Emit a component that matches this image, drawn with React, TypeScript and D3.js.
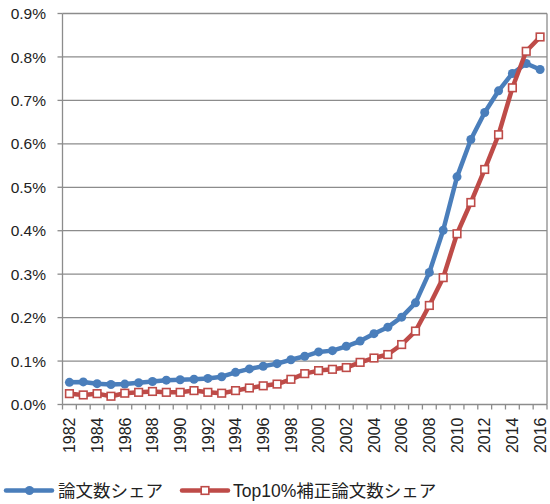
import React, { useEffect, useRef } from "react";
import * as d3 from "d3";

const years: number[] = [
  1982, 1983, 1984, 1985, 1986, 1987, 1988, 1989, 1990, 1991, 1992, 1993,
  1994, 1995, 1996, 1997, 1998, 1999, 2000, 2001, 2002, 2003, 2004, 2005,
  2006, 2007, 2008, 2009, 2010, 2011, 2012, 2013, 2014, 2015, 2016,
];

// share of papers (%)
const paperShare: number[] = [
  0.051, 0.052, 0.048, 0.046, 0.047, 0.05, 0.053, 0.056, 0.057, 0.058, 0.06,
  0.064, 0.074, 0.082, 0.088, 0.094, 0.103, 0.111, 0.121, 0.124, 0.134, 0.146,
  0.163, 0.178, 0.201, 0.234, 0.304, 0.401, 0.524, 0.61, 0.672, 0.722, 0.762,
  0.785, 0.771,
];

// share of top10% adjusted papers (%)
const top10Share: number[] = [
  0.025, 0.022, 0.025, 0.019, 0.026, 0.028, 0.03, 0.028, 0.028, 0.032, 0.028,
  0.026, 0.032, 0.038, 0.043, 0.047, 0.058, 0.071, 0.078, 0.081, 0.085, 0.097,
  0.107, 0.115, 0.138, 0.169, 0.228, 0.292, 0.393, 0.465, 0.541, 0.621, 0.729,
  0.813, 0.846,
];

const yTicks: number[] = [0, 0.1, 0.2, 0.3, 0.4, 0.5, 0.6, 0.7, 0.8, 0.9];
const seriesNames: string[] = ["論文数シェア", "Top10%補正論文数シェア"];

const BLUE = "#4A7EBB";
const RED = "#BE4B48";
const GRID = "#8c8c8c";
const FONT = "'Liberation Sans', Arial, 'Noto Sans CJK JP', sans-serif";

export default function App() {
  const svgRef = useRef<SVGSVGElement>(null);

  useEffect(() => {
    const width = 550;
    const height = 504;
    const margin = { top: 13.5, right: 3, bottom: 99.5, left: 62.5 };

    const svg = d3.select(svgRef.current);
    svg.selectAll("*").remove();
    svg.attr("width", width).attr("height", height);

    const xScale = d3
      .scaleBand<number>()
      .domain(years)
      .range([margin.left, width - margin.right]);
    const yScale = d3
      .scaleLinear()
      .domain([0, 0.9])
      .range([height - margin.bottom, margin.top]);
    const cx = (yr: number) => xScale(yr)! + xScale.bandwidth() / 2;

    const x0 = margin.left;
    const x1 = width - margin.right;
    const y0 = yScale(0);

    // grid lines
    svg
      .append("g")
      .selectAll("line")
      .data(yTicks.slice(1))
      .join("line")
      .attr("x1", x0)
      .attr("x2", x1)
      .attr("y1", (d) => yScale(d))
      .attr("y2", (d) => yScale(d))
      .attr("stroke", GRID)
      .attr("stroke-width", 1.3);

    // right border
    svg
      .append("line")
      .attr("x1", x1)
      .attr("x2", x1)
      .attr("y1", yScale(0.9))
      .attr("y2", y0)
      .attr("stroke", GRID)
      .attr("stroke-width", 1.3);

    // y axis
    const yAxis = svg.append("g");
    yAxis
      .append("line")
      .attr("x1", x0)
      .attr("x2", x0)
      .attr("y1", yScale(0.9))
      .attr("y2", y0)
      .attr("stroke", GRID)
      .attr("stroke-width", 1.3);
    yAxis
      .selectAll("line.tick")
      .data(yTicks)
      .join("line")
      .attr("class", "tick")
      .attr("x1", x0 - 5)
      .attr("x2", x0)
      .attr("y1", (d) => yScale(d))
      .attr("y2", (d) => yScale(d))
      .attr("stroke", GRID)
      .attr("stroke-width", 1.3);
    yAxis
      .selectAll("text")
      .data(yTicks)
      .join("text")
      .attr("x", 46)
      .attr("y", (d) => yScale(d))
      .attr("dy", "0.36em")
      .attr("text-anchor", "end")
      .attr("font-family", FONT)
      .attr("font-size", 15.5)
      .attr("fill", "#222")
      .text((d) => d.toFixed(1) + "%");

    // x axis
    const xAxis = svg.append("g");
    xAxis
      .append("line")
      .attr("x1", x0)
      .attr("x2", x1)
      .attr("y1", y0)
      .attr("y2", y0)
      .attr("stroke", GRID)
      .attr("stroke-width", 1.3);
    const boundaries = years.map((yr) => xScale(yr)!).concat([x1]);
    xAxis
      .selectAll("line.tick")
      .data(boundaries)
      .join("line")
      .attr("class", "tick")
      .attr("x1", (d) => d)
      .attr("x2", (d) => d)
      .attr("y1", y0)
      .attr("y2", y0 + 5)
      .attr("stroke", GRID)
      .attr("stroke-width", 1.3);
    xAxis
      .selectAll("text")
      .data(years.filter((yr) => yr % 2 === 0))
      .join("text")
      .attr("transform", (d) => `translate(${cx(d)}, ${y0 + 13}) rotate(-90)`)
      .attr("dy", "0.36em")
      .attr("text-anchor", "end")
      .attr("font-family", FONT)
      .attr("font-size", 16)
      .attr("fill", "#222")
      .text((d) => String(d));

    const line = d3
      .line<number>()
      .x((_, i) => cx(years[i]))
      .y((d) => yScale(d));

    // blue series
    svg
      .append("path")
      .attr("d", line(paperShare)!)
      .attr("fill", "none")
      .attr("stroke", BLUE)
      .attr("stroke-width", 4.5)
      .attr("stroke-linejoin", "round");
    svg
      .append("g")
      .selectAll("circle")
      .data(paperShare)
      .join("circle")
      .attr("cx", (_, i) => cx(years[i]))
      .attr("cy", (d) => yScale(d))
      .attr("r", 4.5)
      .attr("fill", BLUE);

    // red series
    svg
      .append("path")
      .attr("d", line(top10Share)!)
      .attr("fill", "none")
      .attr("stroke", RED)
      .attr("stroke-width", 4.5)
      .attr("stroke-linejoin", "round");
    svg
      .append("g")
      .selectAll("rect")
      .data(top10Share)
      .join("rect")
      .attr("x", (_, i) => cx(years[i]) - 3.8)
      .attr("y", (d) => yScale(d) - 3.8)
      .attr("width", 7.6)
      .attr("height", 7.6)
      .attr("fill", "#fff")
      .attr("stroke", RED)
      .attr("stroke-width", 1.6);

    // legend
    const ly = 490.5;
    const legend = svg.append("g");
    legend
      .append("line")
      .attr("x1", 6)
      .attr("x2", 52)
      .attr("y1", ly)
      .attr("y2", ly)
      .attr("stroke", BLUE)
      .attr("stroke-width", 4.5)
      .attr("stroke-linecap", "round");
    legend
      .append("circle")
      .attr("cx", 29.5)
      .attr("cy", ly)
      .attr("r", 4.5)
      .attr("fill", BLUE);
    legend
      .append("text")
      .attr("x", 58)
      .attr("y", ly)
      .attr("dy", "0.36em")
      .attr("font-family", FONT)
      .attr("font-size", 17.5)
      .attr("fill", "#222")
      .text(seriesNames[0]);
    legend
      .append("line")
      .attr("x1", 182)
      .attr("x2", 228)
      .attr("y1", ly)
      .attr("y2", ly)
      .attr("stroke", RED)
      .attr("stroke-width", 4.5)
      .attr("stroke-linecap", "round");
    legend
      .append("rect")
      .attr("x", 205 - 3.8)
      .attr("y", ly - 3.8)
      .attr("width", 7.6)
      .attr("height", 7.6)
      .attr("fill", "#fff")
      .attr("stroke", RED)
      .attr("stroke-width", 1.6);
    legend
      .append("text")
      .attr("x", 233)
      .attr("y", ly)
      .attr("dy", "0.36em")
      .attr("font-family", FONT)
      .attr("font-size", 17.5)
      .attr("fill", "#222")
      .text(seriesNames[1]);
  }, []);

  return (
    <svg
      ref={svgRef}
      style={{ position: "absolute", left: 0, top: 0, display: "block", background: "#fff" }}
    ></svg>
  );
}
